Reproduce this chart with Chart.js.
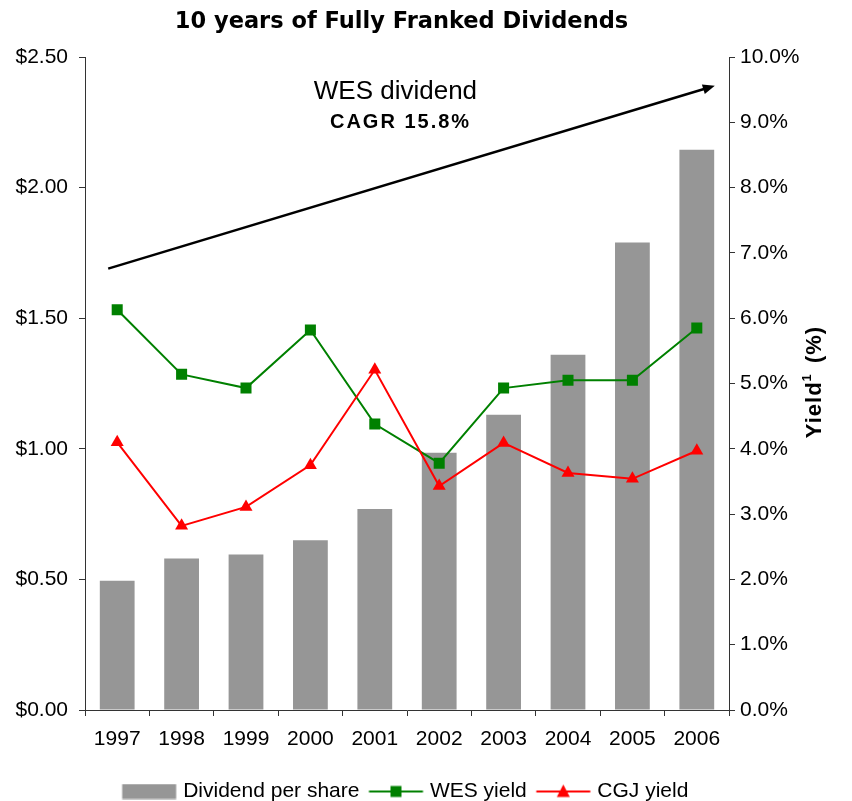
<!DOCTYPE html>
<html>
<head>
<meta charset="utf-8">
<script src="https://cdn.jsdelivr.net/npm/chart.js@4/dist/chart.umd.min.js"></script>
<style>
  html, body { margin: 0; padding: 0; background: #fff; }
  #wrap { width: 852px; height: 801px; }
</style>
</head>
<body>
<div id="wrap"><canvas id="c" width="852" height="801"></canvas></div>
<script>
const years = ['1997','1998','1999','2000','2001','2002','2003','2004','2005','2006'];
const dividendPerShare = [0.495, 0.58, 0.595, 0.65, 0.77, 0.985, 1.13, 1.36, 1.79, 2.145];
const wesYield = [6.13, 5.14, 4.93, 5.82, 4.38, 3.78, 4.93, 5.05, 5.05, 5.85];
const cgjYield = [4.10, 2.82, 3.11, 3.75, 5.21, 3.43, 4.09, 3.63, 3.54, 3.97];
const leftTicks = [0, 0.5, 1.0, 1.5, 2.0, 2.5];
const rightTicks = [0,1,2,3,4,5,6,7,8,9,10];
const titleText = '10 years of Fully Franked Dividends';
const arrowStart = {x: -0.14, y: 1.69};
const arrowEnd = {x: 9.28, y: 2.39};
const noteMain = {text: 'WES dividend', x: 4.32, y: 2.368};
const noteSub = {text: 'CAGR 15.8%', x: 4.40, y: 2.249};

const BAR = '#969696', GREEN = '#008000', RED = '#FF0000', AX = '#333333';

// legend swatch canvas: centred at boxWidth/2 (=29); swatch drawn from 7.5 to 61.5 relative to box start
function swatch(kind) {
  const cv = document.createElement('canvas');
  cv.width = 124; cv.height = 16;
  const g = cv.getContext('2d');
  const x0 = 40.5, w = 54;
  if (kind === 'bar') {
    g.fillStyle = BAR; g.fillRect(x0, 0.5, w, 15);
  } else {
    const col = kind === 'wes' ? GREEN : RED;
    g.strokeStyle = col; g.lineWidth = 2;
    g.beginPath(); g.moveTo(x0, 8); g.lineTo(x0 + w, 8); g.stroke();
    g.fillStyle = col;
    const c = x0 + w / 2;
    if (kind === 'wes') { g.fillRect(c - 5.5, 2.5, 11, 11); }
    else { g.beginPath(); g.moveTo(c, 1); g.lineTo(c + 6.5, 13.5); g.lineTo(c - 6.5, 13.5); g.closePath(); g.fill(); }
  }
  return cv;
}

const annot = {
  id: 'annot',
  afterDatasetsDraw(chart) {
    const ctx = chart.ctx, xs = chart.scales.x, ys = chart.scales.y;
    const sx = xs.getPixelForValue(0), dx = xs.getPixelForValue(1) - sx;
    const px = v => sx + v * dx;
    const x1 = px(arrowStart.x), y1 = ys.getPixelForValue(arrowStart.y);
    const x2 = px(arrowEnd.x), y2 = ys.getPixelForValue(arrowEnd.y);
    const ang = Math.atan2(y2 - y1, x2 - x1);
    ctx.save();
    ctx.strokeStyle = '#000'; ctx.fillStyle = '#000'; ctx.lineWidth = 2.5;
    const hl = 12, hw = 5;
    ctx.beginPath(); ctx.moveTo(x1, y1);
    ctx.lineTo(x2 - hl * 0.8 * Math.cos(ang), y2 - hl * 0.8 * Math.sin(ang)); ctx.stroke();
    ctx.beginPath();
    ctx.moveTo(x2, y2);
    ctx.lineTo(x2 - hl * Math.cos(ang) + hw * Math.sin(ang), y2 - hl * Math.sin(ang) - hw * Math.cos(ang));
    ctx.lineTo(x2 - hl * Math.cos(ang) - hw * Math.sin(ang), y2 - hl * Math.sin(ang) + hw * Math.cos(ang));
    ctx.closePath(); ctx.fill();
    ctx.textAlign = 'center'; ctx.textBaseline = 'middle';
    ctx.font = '26px "Liberation Sans", Arial, sans-serif';
    ctx.fillText(noteMain.text, px(noteMain.x), ys.getPixelForValue(noteMain.y));
    ctx.font = 'bold 20px "Liberation Sans", Arial, sans-serif';
    ctx.letterSpacing = '2px';
    ctx.fillText(noteSub.text, px(noteSub.x), ys.getPixelForValue(noteSub.y));
    ctx.letterSpacing = '0px';
    // right axis title
    const ca = chart.chartArea;
    ctx.translate(815, (ca.top + ca.bottom) / 2);
    ctx.rotate(-Math.PI / 2);
    ctx.textAlign = 'left'; ctx.textBaseline = 'middle';
    ctx.letterSpacing = '1px';
    const f1 = 'bold 22px "Liberation Sans", Arial, sans-serif';
    const f2 = 'bold 13px "Liberation Sans", Arial, sans-serif';
    ctx.font = f1; const w1 = ctx.measureText('Yield').width;
    ctx.font = f2; const w2 = ctx.measureText('1').width;
    ctx.font = f1; const w3 = ctx.measureText(' (%)').width;
    let x = -(w1 + w2 + w3) / 2;
    ctx.font = f1; ctx.fillText('Yield', x, 0); x += w1;
    ctx.font = f2; ctx.fillText('1', x, -8); x += w2;
    ctx.font = f1; ctx.fillText(' (%)', x + 3, 0);
    ctx.restore();
  }
};

const tickFont = {family: '"Liberation Sans", Arial, sans-serif', size: 21};

new Chart(document.getElementById('c'), {
  type: 'bar',
  data: {
    labels: years,
    datasets: [
      {type: 'bar', label: 'Dividend per share', data: dividendPerShare, backgroundColor: BAR,
       yAxisID: 'y', barPercentage: 0.54, categoryPercentage: 1.0, order: 3},
      {type: 'line', label: 'WES yield', data: wesYield, borderColor: GREEN, backgroundColor: GREEN,
       borderWidth: 2, pointStyle: 'rect', pointRadius: 7.8, pointBorderWidth: 0, yAxisID: 'y1', order: 2, tension: 0},
      {type: 'line', label: 'CGJ yield', data: cgjYield, borderColor: RED, backgroundColor: RED,
       borderWidth: 2, pointStyle: 'triangle', pointRadius: 7.5, pointBorderWidth: 0, yAxisID: 'y1', order: 1, tension: 0}
    ]
  },
  options: {
    responsive: false,
    animation: false,
    devicePixelRatio: 1,
    layout: {padding: {left: 0, right: 49, top: 0, bottom: -11}},
    plugins: {
      tooltip: {enabled: false},
      title: {
        display: true, text: titleText, color: '#000',
        font: {family: '"DejaVu Sans", sans-serif', size: 22.5, weight: 'bold'},
        padding: {top: 9, bottom: 21}
      },
      legend: {
        position: 'bottom',
        labels: {
          usePointStyle: true, pointStyleWidth: 58, padding: 2,
          font: tickFont, color: '#000',
          generateLabels() {
            return [
              {text: 'Dividend per share', pointStyle: swatch('bar'), fillStyle: BAR, strokeStyle: BAR, lineWidth: 0, datasetIndex: 0, hidden: false, fontColor: '#000'},
              {text: 'WES yield', pointStyle: swatch('wes'), fillStyle: GREEN, strokeStyle: GREEN, lineWidth: 0, datasetIndex: 1, hidden: false, fontColor: '#000'},
              {text: 'CGJ yield', pointStyle: swatch('cgj'), fillStyle: RED, strokeStyle: RED, lineWidth: 0, datasetIndex: 2, hidden: false, fontColor: '#000'}
            ];
          }
        }
      }
    },
    scales: {
      x: {
        offset: true,
        grid: {display: true, drawOnChartArea: false, drawTicks: true, tickLength: 6, color: AX, offset: true},
        border: {display: true, color: AX, width: 1},
        ticks: {font: tickFont, color: '#000', padding: 11, maxRotation: 0, autoSkip: false},
        afterFit(s) { s.height = 69; }
      },
      y: {
        position: 'left', min: 0, max: 2.5,
        afterBuildTicks(s) { s.ticks = leftTicks.map(v => ({value: v})); },
        grid: {drawOnChartArea: false, drawTicks: true, tickLength: 6, color: AX},
        border: {display: true, color: AX, width: 1},
        ticks: {font: tickFont, color: '#000', padding: 11, callback: v => '$' + Number(v).toFixed(2)},
        afterFit(s) { s.width = 85; }
      },
      y1: {
        position: 'right', min: 0, max: 10,
        afterBuildTicks(s) { s.ticks = rightTicks.map(v => ({value: v})); },
        grid: {drawOnChartArea: false, drawTicks: true, tickLength: 6, color: AX},
        border: {display: true, color: AX, width: 1},
        ticks: {font: tickFont, color: '#000', padding: 5, callback: v => Number(v).toFixed(1) + '%'},
        afterFit(s) { s.width = 74; }
      }
    }
  },
  plugins: [annot]
});
</script>
</body>
</html>
